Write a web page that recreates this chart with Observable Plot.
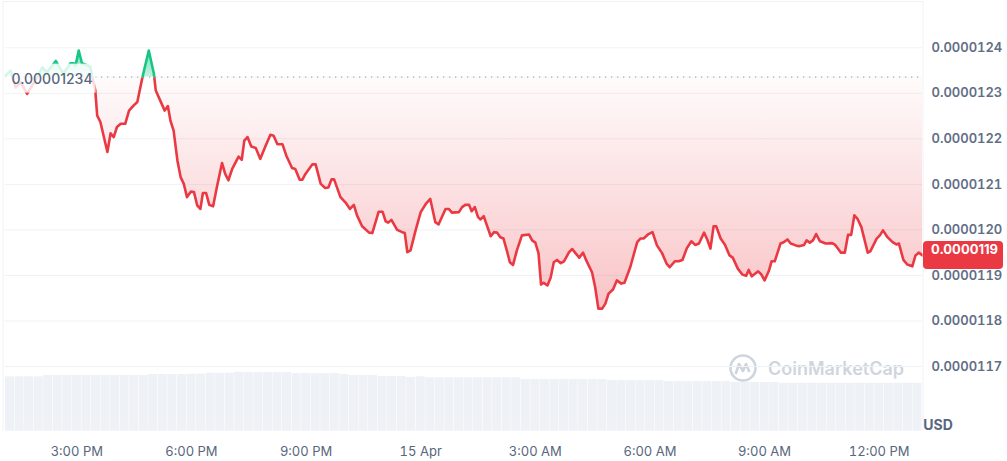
<!DOCTYPE html>
<html><head><meta charset="utf-8">
<script src="https://cdn.jsdelivr.net/npm/d3@7"></script>
<script src="https://cdn.jsdelivr.net/npm/@observablehq/plot@0.6"></script>
<style>
html,body{margin:0;padding:0;background:#fff;}
#wrap{position:relative;width:1007px;height:461px;overflow:hidden;font-family:Inter,"Noto Sans",sans-serif;}
#wrap > svg{position:absolute;left:0;top:0;}
#badge{position:absolute;height:28px;width:72px;padding-left:8px;line-height:28px;background:#ea3943;color:#fff;
  border-radius:4px;font:700 13px Inter,sans-serif;white-space:nowrap;}
</style></head><body><div id="wrap"></div>
<script>
// ---------- data ----------
const startTime = new Date("2024-04-14T13:08:00");
const endTime = new Date("2024-04-15T13:08:00");
// minutes after startTime
const minutes = [0,8,16,24,34,44,58,65,79,83,91,102,107,110,115,120,133,141,144,149,160,165,170,175,181,188,194,201,207,215,225,233,236,
243,250,255,259,264,270,275,280,285,291,296,301,306,310,315,320,326,332,340,345,350,356,366,371,375,380,386,393,400,408,416,421,427,435,441,450,455,462,466,
471,482,487,495,502,507,512,516,526,534,541,547,552,560,571,576,586,592,597,601,606,615,623,627,631,636,644,652,660,667,675,680,691,696,701,712,717,722,
728,732,737,742,746,751,756,762,767,772,777,782,788,792,797,803,811,822,827,832,837,841,845,851,856,861,866,872,877,885,890,895,901,907,912,921,926,931,937,942,947,954,960,
967,972,981,992,997,1002,1009,1016,1023,1031,1038,1043,1051,1057,1063,1070,1077,1083,1089,1097,1102,1107,1112,1116,1123,1130,1137,1142,1150,1157,1163,1167,1172,1182,1187,1192,1199,1203,1208,
1217,1222,1228,1233,1241,1246,1254,1258,1263,1268,1273,1279,1288,1298,1303,1312,1318,1323,1328,1333,1338,1344,1354,1358,1368,1373,1378,1385,1393,1399,1403,1410,1416,1424,1429,1434,1440];
// price in USD x 1e8
const priceE8 = [1233.9,1235.0,1231.3,1232.4,1229.9,1232.2,1235.7,1234.6,1237.1,1236.1,1234.4,1236.6,1236.6,1236.1,1239.4,1236.6,1235.9,1230.6,1225.1,1223.7,1217.1,1221.2,1220.4,1222.6,1223.3,1223.3,1226.2,1227.3,1228.1,1233.5,1239.4,1234.3,1230.6,
1228.4,1226.2,1227.2,1224.0,1221.8,1215.2,1211.6,1210.1,1207.2,1208.4,1208.3,1205.4,1204.6,1208.1,1208.1,1205.5,1205.2,1209.4,1214.7,1212.3,1210.9,1213.4,1216.1,1215.4,1219.6,1220.4,1218.3,1218.0,1215.6,1218.3,1220.9,1220.7,1218.8,1218.8,1216.3,1213.6,1213.4,1211.0,1211.0,
1212.3,1214.4,1214.4,1210.1,1209.2,1209.3,1211.1,1211.1,1207.2,1206.0,1204.6,1205.5,1203.2,1200.8,1199.4,1199.3,1204.0,1204.0,1201.9,1201.6,1202.2,1200.0,1199.5,1199.3,1195.1,1195.5,1199.9,1203.9,1205.7,1206.8,1201.7,1201.2,1204.6,1204.6,1203.8,1203.9,1205.0,1205.5,
1205.5,1204.1,1205.0,1202.8,1202.3,1203.0,1201.0,1198.6,1199.5,1199.4,1198.4,1198.1,1195.1,1192.9,1192.3,1195.5,1198.8,1199.0,1197.7,1197.2,1194.9,1188.0,1188.4,1187.8,1189.5,1192.9,1193.4,1192.7,1193.1,1195.1,1195.8,1194.9,1193.9,1195.0,1193.3,1190.7,1187.4,1182.7,1182.7,1183.8,1186.0,1186.9,1188.9,
1188.2,1188.4,1191.8,1197.3,1198.1,1198.1,1199.0,1199.5,1196.6,1194.9,1192.6,1191.8,1193.1,1193.1,1193.4,1196.0,1197.5,1196.7,1197.0,1199.4,1197.9,1195.9,1200.8,1200.8,1198.1,1196.7,1194.4,1193.9,1191.5,1190.2,1189.9,1191.2,1189.8,1190.9,1190.2,1188.9,1191.1,1193.1,1193.1,
1197.0,1197.3,1197.9,1197.0,1196.6,1196.4,1196.7,1197.7,1197.2,1197.7,1199.1,1197.5,1197.0,1197.1,1196.7,1195.0,1195.0,1198.9,1198.9,1203.2,1202.4,1200.6,1195.0,1195.3,1198.1,1198.8,1199.9,1198.4,1197.3,1196.8,1197.0,1193.4,1192.4,1192.0,1194.4,1195.0,1194.4];
const baselinePrice = 0.0000123355;   // shown as 0.00001234
// relative volume, one bar per 15 minutes
const volume = [90.5,90.7,90.7,90.6,
92.8,92.8,92.8,92.8,92.8,92.8,92.8,92.8,92.8,92.8,92.8,
94.5,94.5,94.5,94.5, 95.0,95.0, 96.7,96.7,96.7, 98.3,
97.8,97.8,97.8,97.8,97.8, 96.2,96.2,96.2,96.2,96.2, 94.5,
92.8,92.8,92.8, 91.2,91.2,91.2, 89.5, 90.7,
89.0,89.0,89.0,89.0,89.0,89.0,89.0,89.0,89.0,89.0,
86.2,86.2,86.2,86.2,86.2,86.2,86.2,86.2,86.2,
84.5,84.5,84.5,84.5,84.5,84.5,
82.8,82.8,82.8,82.8,82.8,82.8,82.8,
81.2,81.2,81.2,81.2,81.2,
80.0,80.0,80.0,80.0,80.0,80.0,80.0,80.0,80.0,80.0,80.0,80.0,80.0,80.0,80.0];
const xTickTimes = ["2024-04-14T15:00","2024-04-14T18:00","2024-04-14T21:00","2024-04-15T00:00","2024-04-15T03:00","2024-04-15T06:00","2024-04-15T09:00","2024-04-15T12:00"].map(s => new Date(s));
const yTickValues = [0.0000117,0.0000118,0.0000119,0.0000120,0.0000121,0.0000122,0.0000123,0.0000124];
const currency = "USD";
const watermarkText = "CoinMarketCap";

// ---------- build ----------
const W = 1007, H = 461;
const RED = "#ea3943", GREEN = "#16c784", TXT = "#616e85";
const data = minutes.map((m, i) => ({time: new Date(+startTime + m * 60000), price: priceE8[i] * 1e-8}));
const volData = volume.map((v, i) => ({t0: new Date(+startTime + i * 15 * 60000), t1: new Date(+startTime + (i + 1) * 15 * 60000), v}));
const fmtX = d => d.getHours() === 0 ? d3.timeFormat("%-d %b")(d) : d3.timeFormat("%-I:%M %p")(d);
const wrap = document.getElementById("wrap");

// volume layer
const vol = Plot.plot({
  width: W, height: H, marginLeft: 5, marginRight: 85, marginTop: 370.7, marginBottom: 30.3,
  style: {background: "transparent", overflow: "visible"},
  x: {type: "time", domain: [startTime, endTime], axis: null},
  y: {domain: [0, 100], axis: null},
  marks: [Plot.rectY(volData, {x1: "t0", x2: "t1", y: "v", fill: "#eef1f5", insetRight: 0.5})]
});
wrap.appendChild(vol);

// watermark
const wm = d3.select(wrap).append("svg").attr("width", W).attr("height", H);
const logo = wm.append("g").attr("transform", "translate(743,368)");
logo.append("circle").attr("r", 12.5).attr("fill", "none").attr("stroke", "#cfd5de").attr("stroke-width", 2.6);
logo.append("path").attr("d", "M-7,5 L-4,-4 L0,3 L3,-4 L6,3").attr("fill", "none").attr("stroke", "#cfd5de").attr("stroke-width", 2.6).attr("stroke-linejoin", "round").attr("stroke-linecap", "round");
wm.append("text").attr("x", 768).attr("y", 374.5).attr("font-size", 18).attr("font-weight", 600)
  .attr("font-family", "Inter, sans-serif").attr("fill", "#cfd5de").text(watermarkText);

// main price layer
const main = Plot.plot({
  width: W, height: H, marginLeft: 5, marginRight: 85, marginTop: 1.77, marginBottom: 49.5,
  style: {background: "transparent", overflow: "visible", fontFamily: "Inter, sans-serif"},
  x: {type: "time", domain: [startTime, endTime]},
  y: {domain: [0.0000116, 0.0000125]},
  marks: [
    Plot.ruleY(yTickValues, {stroke: "#eff2f5", strokeWidth: 1}),
    Plot.areaY(data, {x: "time", y1: () => baselinePrice, y2: "price", fill: "url(#redGrad)"}),
    Plot.areaY(data, {x: "time", y1: () => baselinePrice, y2: "price", fill: "url(#greenGrad)"}),
    Plot.ruleY([baselinePrice], {stroke: "#a6afc0", strokeDasharray: "1.3,4.7", strokeWidth: 1.3}),
    Plot.lineY(data, {x: "time", y: "price", stroke: RED, strokeWidth: 2.6}),
    Plot.lineY(data, {x: "time", y: "price", stroke: GREEN, strokeWidth: 2.6}),
    Plot.text([baselinePrice], {x: () => startTime, y: d => d, text: d => d3.format(".8f")(d), dx: 6, dy: 2,
      textAnchor: "start", fontSize: 14, fontWeight: 500, fill: "#58667e"}),
    Plot.axisX({ticks: xTickTimes, tickFormat: fmtX, tickSize: 0, tickPadding: 35, fontSize: 13, fill: "#58667e", label: null}),
    Plot.axisY({anchor: "right", ticks: yTickValues, tickFormat: d3.format(".7f"), tickSize: 0, tickPadding: 9,
      fontSize: 13, fontWeight: 600, fill: TXT, label: null})
  ]
});
wrap.appendChild(main);

// post-processing with the plot's own scales
const svg = d3.select(main);
const yS = main.scale("y"), xS = main.scale("x");
const yb = yS.apply(baselinePrice);
const yMin = yS.apply(d3.min(data, d => d.price)), yMax = yS.apply(d3.max(data, d => d.price));
const defs = svg.insert("defs", ":first-child");
const rg = defs.append("linearGradient").attr("id", "redGrad").attr("gradientUnits", "userSpaceOnUse")
  .attr("x1", 0).attr("x2", 0).attr("y1", yb).attr("y2", yMin);
rg.append("stop").attr("offset", 0).attr("stop-color", RED).attr("stop-opacity", 0.02);
rg.append("stop").attr("offset", 1).attr("stop-color", RED).attr("stop-opacity", 0.3);
const gg = defs.append("linearGradient").attr("id", "greenGrad").attr("gradientUnits", "userSpaceOnUse")
  .attr("x1", 0).attr("x2", 0).attr("y1", yb).attr("y2", yMax);
gg.append("stop").attr("offset", 0).attr("stop-color", GREEN).attr("stop-opacity", 0.25);
gg.append("stop").attr("offset", 1).attr("stop-color", GREEN).attr("stop-opacity", 0.55);
defs.append("clipPath").attr("id", "clipUp").append("rect").attr("x", -10).attr("y", -10).attr("width", W + 20).attr("height", yb + 10);
defs.append("clipPath").attr("id", "clipDown").append("rect").attr("x", -10).attr("y", yb).attr("width", W + 20).attr("height", H - yb + 10);
const areas = main.querySelectorAll('g[aria-label="area"]');
const lines = main.querySelectorAll('g[aria-label="line"]');
if (areas.length === 2) { areas[0].setAttribute("clip-path", "url(#clipDown)"); areas[1].setAttribute("clip-path", "url(#clipUp)"); }
if (lines.length === 2) { lines[0].setAttribute("clip-path", "url(#clipDown)"); lines[1].setAttribute("clip-path", "url(#clipUp)"); }

// white veil behind the baseline label
const lblNode = main.querySelector('g[aria-label="text"]');
if (lblNode) {
  const bb = lblNode.getBBox();
  d3.select(lblNode).insert("rect", ":first-child").attr("x", bb.x - 8).attr("y", bb.y - 6).attr("width", bb.width + 11).attr("height", bb.height + 12)
    .attr("fill", "#fff").attr("fill-opacity", 0.82);
}

// frame lines
const [x0, x1] = xS.range;
svg.append("path").attr("d", `M${x0 - 2},430.5V1.5H${x1 + 1}V430.5`).attr("fill", "none").attr("stroke", "#eff2f5");

// currency label
svg.append("text").attr("x", x1 + 16).attr("y", 429.5).attr("fill", "#58667e").attr("font-size", 14)
  .attr("font-weight", 700).attr("font-family", "Inter, sans-serif").text(currency);

// last price badge (HTML, positioned with the plot's scales)
const last = data[data.length - 1];
const yl = yS.apply(last.price);
const badge = document.createElement("div");
badge.id = "badge";
badge.style.left = (x1 + 1) + "px";
badge.style.top = (yl - 14) + "px";
badge.textContent = d3.format(".7f")(last.price);
wrap.appendChild(badge);
</script></body></html>
